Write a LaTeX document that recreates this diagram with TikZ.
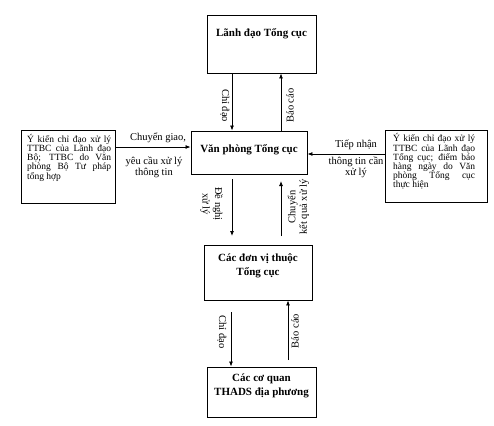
\documentclass[tikz,border=0pt]{standalone}
\usepackage{fontspec}
\setmainfont{Liberation Serif}
\usetikzlibrary{arrows.meta}
\newcommand\jl[2][84pt]{\makebox[#1][s]{#2}}
\tikzset{
  box/.style={draw, line width=0.9pt, inner sep=0pt},
  title/.style={font=\fontsize{11}{14}\selectfont\bfseries, align=center, inner sep=0pt},
  lbl/.style={font=\fontsize{10.5}{10.5}\selectfont, align=center, inner sep=0pt},
  side/.style={font=\fontsize{9.5}{9.2}\selectfont, align=left, inner sep=0pt, anchor=north west},
  arr/.style={line width=0.8pt, -{Latex[length=5pt,width=4pt]}},
}
\begin{document}
\begin{tikzpicture}[x=1pt,y=-1pt]
\useasboundingbox (0,0) rectangle (494,425);
% boxes
\node[box, minimum width=109pt, minimum height=58pt] (ld) at (261.5,44) {};
\node[title] (ldt) at (261.5,34) {Lãnh đạo Tổng cục};
\node[box, minimum width=116pt, minimum height=43pt] (vp) at (249,152.5) {};
\node[title] (vpt) at (249,150) {Văn phòng Tổng cục};
\node[box, minimum width=108pt, minimum height=55pt] (dv) at (258,272.5) {};
\node[title] (dvt) at (258,266) {Các đơn vị thuộc\\Tổng cục};
\node[box, minimum width=109pt, minimum height=50pt] (cq) at (261.5,392) {};
\node[title] (cqt) at (261.5,385.5) {Các cơ quan\\THADS địa phương};
\node[box, minimum width=94pt, minimum height=73pt] (lb) at (68,166.5) {};
\node[side] (lbt) at (27,134) {\jl{Ý kiến chỉ đạo xử lý}\\\jl{TTBC của Lãnh đạo}\\\jl{Bộ; TTBC do Văn}\\\jl{phòng Bộ Tư pháp}\\tổng hợp};
\node[box, minimum width=102pt, minimum height=72pt] (rb) at (436,166) {};
\node[side] (rbt) at (393,133.5) {\jl[82pt]{Ý kiến chỉ đạo xử lý}\\\jl[82pt]{TTBC của Lãnh đạo}\\\jl[82pt]{Tổng cục; điểm báo}\\\jl[82pt]{hàng ngày do Văn}\\\jl[82pt]{phòng Tổng cục}\\thực hiện};
% columns and rows
\coordinate (cL) at (232,0);
\coordinate (cR) at (281,0);
\coordinate (cL2) at (231,0);
\coordinate (cR2) at (288,0);
\coordinate (rLeft) at (0,147);
\coordinate (rRight) at (0,154);
\coordinate (m1s) at (232,179);
\coordinate (m1e) at (232,236);
\coordinate (m2s) at (281,236);
\coordinate (m2e) at (281,181);
\coordinate (b1s) at (231,312);
\coordinate (b2s) at (288,360);
% connectors
\draw[arr] (ld.south -| cL) -- (vp.north -| cL);
\draw[arr] (vp.north -| cR) -- (ld.south -| cR);
\draw[arr] (lb.east |- rLeft) -- (vp.west |- rLeft);
\draw[arr] (rb.west |- rRight) -- (vp.east |- rRight);
\draw[arr] (m1s) -- (m1e);
\draw[arr] (m2s) -- (m2e);
\draw[arr] (b1s) -- (cq.north -| cL2);
\draw[arr] (b2s) -- (dv.south -| cR2);
% labels
\node[lbl, rotate=-90] (l1) at (225,105.5) {Chỉ đạo};
\node[lbl, rotate=90] (l2) at (290,105.5) {Báo cáo};
\node[lbl] (l3) at (158,137.5) {Chuyển giao,};
\node[lbl, font=\fontsize{10.5}{10.5}\selectfont] (l4) at (154,167.5) {yêu cầu xử lý\\thông tin};
\node[lbl] (l5) at (356,145) {Tiếp nhận};
\node[lbl, font=\fontsize{10.5}{10.5}\selectfont] (l6) at (356,167.5) {thông tin cần\\xử lý};
\node[lbl, rotate=-90, font=\fontsize{10.5}{12.5}\selectfont] (l7) at (211.5,204) {Đề nghị\\xử lý};
\node[lbl, rotate=90, font=\fontsize{10.5}{11.5}\selectfont] (l8) at (298.5,207) {Chuyển\\kết quả xử lý};
\node[lbl, rotate=-90] (l9) at (222,332) {Chỉ đạo};
\node[lbl, rotate=90] (l10) at (295,331) {Báo cáo};
\end{tikzpicture}
\end{document}
